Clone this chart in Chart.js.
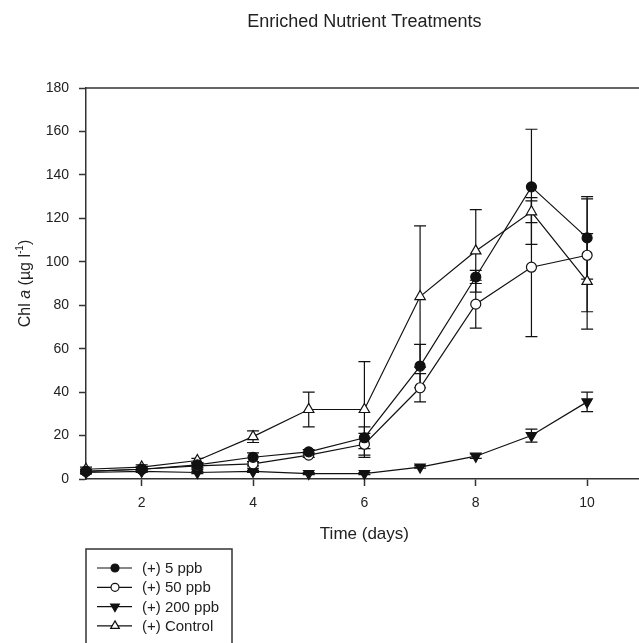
<!DOCTYPE html>
<html>
<head>
<meta charset="utf-8">
<script src="https://cdn.jsdelivr.net/npm/chart.js@4.4.1/dist/chart.umd.min.js"></script>
<style>
  html, body { margin: 0; padding: 0; background: #fff; overflow: hidden; }
  #wrap { width: 650px; height: 643px; }
</style>
</head>
<body>
<div id="wrap"><canvas id="chlChart" width="650" height="643"></canvas></div>
<script>
  // data (Chl a, ug/l)
  const days = [1, 2, 3, 4, 5, 6, 7, 8, 9, 10];
  const ppb5 = [3.5, 4.5, 6.5, 10, 12.5, 19, 52, 93, 134.5, 111];
  const ppb5Err = [1, 1, 1, 2, 1, 5, 10, 3, 26.5, 19];
  const ppb50 = [3.5, 4.5, 6, 7, 11, 16, 42, 80.5, 97.5, 103];
  const ppb50Err = [1, 1, 1, 1, 1, 5, 6.5, 11, 32, 26];
  const ppb200 = [3, 3.5, 3, 3.5, 2.5, 2.5, 5.5, 10.5, 20, 35.5];
  const ppb200Err = [0.5, 0.5, 0.5, 0.5, 0.5, 0.5, 0.5, 1, 3, 4.5];
  const control = [4.5, 5.5, 8.5, 19.5, 32, 32, 84, 105, 123, 91];
  const controlErr = [1, 1, 1, 2.7, 8, 22, 32.5, 19, 5, 22];

  const seriesLabels = ["(+) 5 ppb", "(+) 50 ppb", "(+) 200 ppb", "(+) Control"];
  const xTicks = [2, 4, 6, 8, 10];
  const yTicks = [0, 20, 40, 60, 80, 100, 120, 140, 160, 180];

  const FONT = "'Liberation Sans', Arial, sans-serif";
  const INK = "#111";

  function pts(vals) {
    return days.map((d, i) => ({ x: d, y: vals[i] }));
  }

  function makeSet(label, vals, errs, style, fill, rot, r) {
    return {
      label: label,
      data: pts(vals),
      errors: errs,
      borderColor: INK,
      borderWidth: 1.2,
      pointStyle: style,
      pointRotation: rot,
      pointRadius: r,
      pointBackgroundColor: fill,
      pointBorderColor: INK,
      pointBorderWidth: 1.2,
      tension: 0,
      clip: false,
    };
  }

  // error bars, drawn under the markers
  const errorBars = {
    id: "errorBars",
    beforeDatasetsDraw(chart) {
      const { ctx, scales: { x, y } } = chart;
      ctx.save();
      ctx.strokeStyle = INK;
      ctx.lineWidth = 1.2;
      chart.data.datasets.forEach((ds) => {
        ds.data.forEach((p, i) => {
          const e = ds.errors[i];
          const px = x.getPixelForValue(p.x);
          const top = y.getPixelForValue(p.y + e);
          const bot = y.getPixelForValue(p.y - e);
          ctx.beginPath();
          ctx.moveTo(px, top); ctx.lineTo(px, bot);
          ctx.moveTo(px - 6, top); ctx.lineTo(px + 6, top);
          ctx.moveTo(px - 6, bot); ctx.lineTo(px + 6, bot);
          ctx.stroke();
        });
      });
      ctx.restore();
    },
  };

  // top frame line, axis titles and boxed legend
  const decorations = {
    id: "decorations",
    afterDraw(chart) {
      const { ctx, chartArea: a } = chart;
      ctx.save();
      ctx.strokeStyle = "#333";
      ctx.lineWidth = 1.5;
      ctx.beginPath();
      ctx.moveTo(a.left, a.top); ctx.lineTo(a.right, a.top);
      ctx.moveTo(a.right, a.top); ctx.lineTo(a.right, a.bottom);
      ctx.stroke();

      // x title
      ctx.fillStyle = "#222";
      ctx.font = "17px " + FONT;
      ctx.textAlign = "center";
      ctx.textBaseline = "middle";
      ctx.fillText("Time (days)", (a.left + a.right) / 2, 534);

      // y title with italic a and superscript
      const segs = [
        { t: "Chl ", f: "16px " + FONT, dy: 0 },
        { t: "a", f: "italic 16px " + FONT, dy: 0 },
        { t: " (\u00b5g l", f: "16px " + FONT, dy: 0 },
        { t: "-1", f: "10px " + FONT, dy: -6 },
        { t: ")", f: "16px " + FONT, dy: 0 },
      ];
      let w = 0;
      segs.forEach((s) => { ctx.font = s.f; s.w = ctx.measureText(s.t).width; w += s.w; });
      ctx.translate(26, (a.top + a.bottom) / 2);
      ctx.rotate(-Math.PI / 2);
      ctx.textAlign = "left";
      ctx.textBaseline = "middle";
      let cx = -w / 2;
      segs.forEach((s) => { ctx.font = s.f; ctx.fillText(s.t, cx, s.dy); cx += s.w; });
      ctx.setTransform(1, 0, 0, 1, 0, 0);

      // legend box
      ctx.strokeStyle = "#333";
      ctx.lineWidth = 1.5;
      ctx.strokeRect(86, 549, 146, 110);
      ctx.font = "15px " + FONT;
      ctx.textAlign = "left";
      ctx.textBaseline = "middle";
      chart.data.datasets.forEach((ds, i) => {
        const ly = 568 + i * 19.3;
        ctx.strokeStyle = INK;
        ctx.lineWidth = 1.2;
        ctx.beginPath();
        ctx.moveTo(97, ly); ctx.lineTo(132, ly);
        ctx.stroke();
        ctx.fillStyle = ds.pointBackgroundColor;
        Chart.helpers.drawPoint(ctx, {
          pointStyle: ds.pointStyle,
          rotation: ds.pointRotation,
          radius: ds.pointStyle === "circle" ? 4 : 5,
          borderWidth: 1.2,
        }, 115, ly);
        ctx.fillStyle = "#222";
        ctx.fillText(ds.label, 142, ly + 1);
      });
      ctx.restore();
    },
  };

  const chlCtx = document.getElementById("chlChart").getContext("2d");
  const chlChart = new Chart(chlCtx, {
    type: "line",
    data: {
      datasets: [
        makeSet(seriesLabels[0], ppb5, ppb5Err, "circle", INK, 0, 5),
        makeSet(seriesLabels[1], ppb50, ppb50Err, "circle", "#fff", 0, 5),
        makeSet(seriesLabels[2], ppb200, ppb200Err, "triangle", INK, 180, 6),
        makeSet(seriesLabels[3], control, controlErr, "triangle", "#fff", 0, 6),
      ],
    },
    options: {
      responsive: false,
      animation: false,
      devicePixelRatio: 1,
      layout: { padding: { left: 0, right: 6, top: 0, bottom: 0 } },
      plugins: {
        legend: { display: false },
        tooltip: { enabled: false },
        title: {
          display: true,
          text: "Enriched Nutrient Treatments",
          fullSize: false,
          color: "#222",
          font: { family: FONT, size: 18, weight: "normal" },
          padding: { top: 11, bottom: 55.4 },
        },
      },
      scales: {
        x: {
          type: "linear",
          min: 1,
          max: 11,
          afterBuildTicks: (s) => { s.ticks = xTicks.map((v) => ({ value: v })); },
          afterFit: (s) => { s.height = 164; },
          grid: { drawOnChartArea: false, drawTicks: true, tickLength: 7, tickColor: "#333", tickWidth: 1.5 },
          border: { display: true, color: "#333", width: 1.5 },
          ticks: { color: "#222", padding: 9, maxRotation: 0, font: { family: FONT, size: 14 } },
        },
        y: {
          min: 0,
          max: 180,
          afterBuildTicks: (s) => { s.ticks = yTicks.map((v) => ({ value: v })); },
          afterFit: (s) => { s.width = 86; },
          grid: { drawOnChartArea: false, drawTicks: true, tickLength: 7, tickColor: "#333", tickWidth: 1.5 },
          border: { display: true, color: "#333", width: 1.5 },
          ticks: { color: "#222", padding: 10, font: { family: FONT, size: 14 } },
        },
      },
    },
    plugins: [errorBars, decorations],
  });
</script>
</body>
</html>
